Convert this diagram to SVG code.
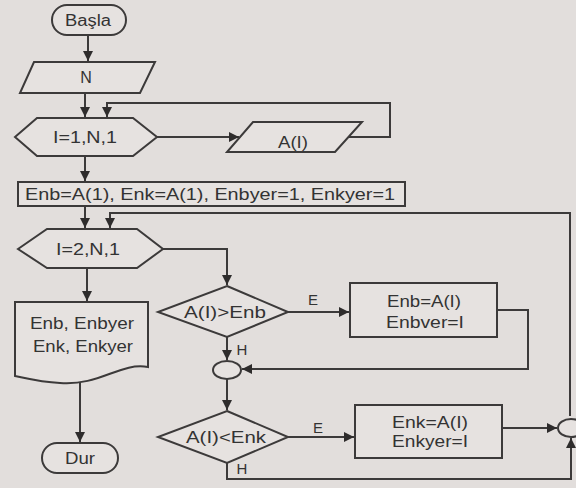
<svg xmlns="http://www.w3.org/2000/svg" width="576" height="488" viewBox="0 0 576 488">
<style>
.s{fill:none;stroke:#3c3a3a;stroke-width:2}
.n{fill:#e6e2e0;stroke:#3c3a3a;stroke-width:2}
.c{fill:none;stroke:#3c3a3a;stroke-width:2;marker-end:url(#ah)}
text{font-family:"Liberation Sans",Arial,sans-serif;font-size:16px;fill:#333;text-anchor:middle;dominant-baseline:central}
.l{font-size:15px}
</style>
<defs>
<marker id="ah" viewBox="0 0 10 10" refX="10" refY="5" markerWidth="5" markerHeight="5" orient="auto" markerUnits="strokeWidth">
<path d="M0,0 L10,5 L0,10 z" fill="#2e2c2c"/>
</marker>
</defs>
<rect x="0" y="0" width="576" height="488" fill="#e2dedc"/>
<g id="connectors">
<line class="c" x1="88" y1="35" x2="88" y2="61"/>
<line class="c" x1="85" y1="93" x2="85" y2="117"/>
<polyline class="c" points="349,137 390,137 390,103 107,103 107,117"/>
<line class="c" x1="157" y1="137" x2="239" y2="137"/>
<line class="c" x1="85" y1="156" x2="85" y2="181"/>
<line class="c" x1="85" y1="206" x2="85" y2="228"/>
<polyline class="c" points="570,416 570,213 110,213 110,228"/>
<polyline class="c" points="163,249 227,249 227,285"/>
<line class="c" x1="87" y1="268" x2="87" y2="301"/>
<line class="c" x1="80" y1="382" x2="80" y2="442"/>
<line class="c" x1="288" y1="312" x2="349" y2="312"/>
<line class="c" x1="227" y1="337" x2="227" y2="360"/>
<polyline class="c" points="497,310 528,310 528,369 242,369"/>
<line class="c" x1="227" y1="379" x2="227" y2="410"/>
<line class="c" x1="288" y1="437" x2="354" y2="437"/>
<line class="c" x1="502" y1="428" x2="557" y2="428"/>
<polyline class="c" points="227,463 227,479 571,479 571,438"/>
<text class="l" x="313" y="299">E</text>
<text class="l" x="242" y="349">H</text>
<text class="l" x="318" y="427">E</text>
<text class="l" x="242" y="468">H</text>
</g>
<g id="basla">
<rect class="n" x="52" y="5" width="74" height="30" rx="15"/>
<text x="88" y="20" textLength="46" lengthAdjust="spacingAndGlyphs">Başla</text>
</g>
<g id="input-n">
<polygon class="n" points="34,62 155,62 140,93 20,93"/>
<text x="86" y="77">N</text>
</g>
<g id="loop1">
<polygon class="n" points="15,137 37,118 133,118 157,137 133,156 37,156"/>
<text x="85" y="137" textLength="64" lengthAdjust="spacingAndGlyphs">I=1,N,1</text>
</g>
<g id="input-a">
<polygon class="n" points="253,122 362,122 335,152 227,152"/>
<text x="293" y="142" textLength="30" lengthAdjust="spacingAndGlyphs">A(I)</text>
</g>
<g id="init">
<rect class="n" x="18" y="182" width="387" height="24"/>
<text x="210" y="194" textLength="370" lengthAdjust="spacingAndGlyphs">Enb=A(1), Enk=A(1), Enbyer=1, Enkyer=1</text>
</g>
<g id="loop2">
<polygon class="n" points="18,249 47,229 137,229 163,249 137,268 47,268"/>
<text x="88" y="249" textLength="64" lengthAdjust="spacingAndGlyphs">I=2,N,1</text>
</g>
<g id="output">
<path class="n" d="M15,302 H148 V367 C120,362 100,386 60,383 C40,382 25,378 15,376 Z"/>
<text x="82" y="323" textLength="104" lengthAdjust="spacingAndGlyphs">Enb, Enbyer</text>
<text x="83" y="346" textLength="100" lengthAdjust="spacingAndGlyphs">Enk, Enkyer</text>
</g>
<g id="dur">
<rect class="n" x="42" y="443" width="76" height="30" rx="15"/>
<text x="80" y="458" textLength="30" lengthAdjust="spacingAndGlyphs">Dur</text>
</g>
<g id="cond1">
<polygon class="n" points="227,286 288,312 227,337 158,312"/>
<text x="225" y="312" textLength="82" lengthAdjust="spacingAndGlyphs">A(I)&gt;Enb</text>
</g>
<g id="set1">
<rect class="n" x="350" y="283" width="147" height="54"/>
<text x="424" y="301" textLength="74" lengthAdjust="spacingAndGlyphs">Enb=A(I)</text>
<text x="425" y="322" textLength="78" lengthAdjust="spacingAndGlyphs">Enbver=I</text>
</g>
<g id="join1">
<ellipse class="n" cx="227" cy="370" rx="14" ry="9"/>
</g>
<g id="cond2">
<polygon class="n" points="227,411 288,437 227,463 158,437"/>
<text x="226" y="437" textLength="80" lengthAdjust="spacingAndGlyphs">A(I)&lt;Enk</text>
</g>
<g id="set2">
<rect class="n" x="355" y="405" width="147" height="53"/>
<text x="430" y="422" textLength="76" lengthAdjust="spacingAndGlyphs">Enk=A(I)</text>
<text x="430" y="441" textLength="76" lengthAdjust="spacingAndGlyphs">Enkyer=I</text>
</g>
<g id="join2">
<ellipse class="n" cx="571" cy="428" rx="13" ry="9"/>
</g>
</svg>
